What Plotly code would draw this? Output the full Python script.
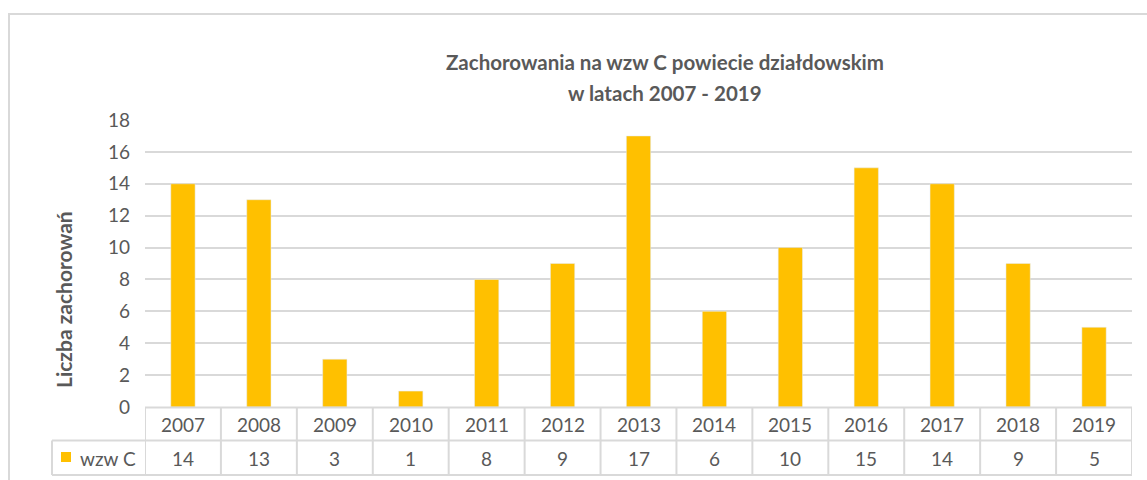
import plotly.graph_objects as go

years = ["2007", "2008", "2009", "2010", "2011", "2012", "2013",
         "2014", "2015", "2016", "2017", "2018", "2019"]
cases = [14, 13, 3, 1, 8, 9, 17, 6, 10, 15, 14, 9, 5]
series_name = "wzw C"
title_lines = ["Zachorowania na wzw C powiecie działdowskim", "w latach 2007 - 2019"]
y_title = "Liczba zachorowań"

W, H = 1147, 480
ML, MR, MT, MB = 145, 15, 120, 73
PW = W - ML - MR
PH = H - MT - MB

def px2x(px):
    return (px - ML) / PW

def py2y(py):
    return (H - MB - py) / PH

GREY = "#595959"
LINE = "#d9d9d9"
BAR = "#FFC000"
FONT = "Lato"

fig = go.Figure()
fig.add_trace(go.Bar(x=years, y=cases, name=series_name, marker_color=BAR,
                     width=0.32, showlegend=False))

shapes = []
annotations = []

row_top, row_mid, row_bot = 407.5, 440.5, 475
tbl_left = 52
shapes.append(dict(type="line", xref="paper", yref="paper", x0=0, x1=1,
                   y0=py2y(row_top), y1=py2y(row_top), line=dict(color=LINE, width=2)))
for yy in (row_mid, row_bot):
    shapes.append(dict(type="line", xref="paper", yref="paper", x0=px2x(tbl_left), x1=1,
                       y0=py2y(yy), y1=py2y(yy), line=dict(color=LINE, width=2)))
for i in range(len(years) + 1):
    shapes.append(dict(type="line", xref="x", yref="paper", x0=i - 0.5, x1=i - 0.5,
                       y0=py2y(row_top), y1=py2y(row_bot), line=dict(color=LINE, width=2)))
shapes.append(dict(type="line", xref="paper", yref="paper", x0=px2x(tbl_left), x1=px2x(tbl_left),
                   y0=py2y(row_mid), y1=py2y(row_bot), line=dict(color=LINE, width=2)))
shapes.append(dict(type="rect", xref="paper", yref="paper", x0=px2x(61), x1=px2x(71),
                   y0=py2y(462), y1=py2y(452), fillcolor=BAR, line=dict(width=0)))
shapes.append(dict(type="rect", xref="paper", yref="paper", x0=px2x(9), x1=px2x(W + 10),
                   y0=py2y(H + 10), y1=py2y(14), line=dict(color=LINE, width=2),
                   fillcolor="rgba(0,0,0,0)"))

for i, (yr, v) in enumerate(zip(years, cases)):
    annotations.append(dict(x=i, xref="x", y=py2y(424), yref="paper", text=yr,
                            showarrow=False, font=dict(family=FONT, size=19, color=GREY),
                            xanchor="center", yanchor="middle"))
    annotations.append(dict(x=i, xref="x", y=py2y(458), yref="paper", text=str(v),
                            showarrow=False, font=dict(family=FONT, size=19, color=GREY),
                            xanchor="center", yanchor="middle"))
annotations.append(dict(x=px2x(78), xref="paper", y=py2y(458), yref="paper", text=series_name,
                        showarrow=False, font=dict(family=FONT, size=19, color=GREY),
                        xanchor="left", yanchor="middle"))
annotations.append(dict(x=px2x(63), xref="paper", y=py2y(300), yref="paper", text="<b>%s</b>" % y_title,
                        textangle=-90, showarrow=False, font=dict(family=FONT, size=21, color=GREY),
                        xanchor="center", yanchor="middle"))
for line, yy in zip(title_lines, (62, 93)):
    annotations.append(dict(x=px2x(665), xref="paper", y=py2y(yy), yref="paper", text="<b>%s</b>" % line,
                            showarrow=False, font=dict(family=FONT, size=20.5, color=GREY),
                            xanchor="center", yanchor="middle"))

fig.update_layout(
    width=W, height=H,
    margin=dict(l=ML, r=MR, t=MT, b=MB),
    paper_bgcolor="white", plot_bgcolor="white",
    shapes=shapes, annotations=annotations,
    xaxis=dict(type="category", range=[-0.5, len(years) - 0.5], showticklabels=False, showgrid=False,
               zeroline=False, showline=False, fixedrange=True),
    yaxis=dict(range=[0, 18], dtick=2, showgrid=True, gridcolor=LINE, gridwidth=1.5,
               zeroline=False, showline=False, ticklabelstandoff=14,
               tickfont=dict(family=FONT, size=19, color=GREY)),
)

fig.write_html("out.html", config={"displayModeBar": False},
               post_script="document.body.style.margin='0px';")
